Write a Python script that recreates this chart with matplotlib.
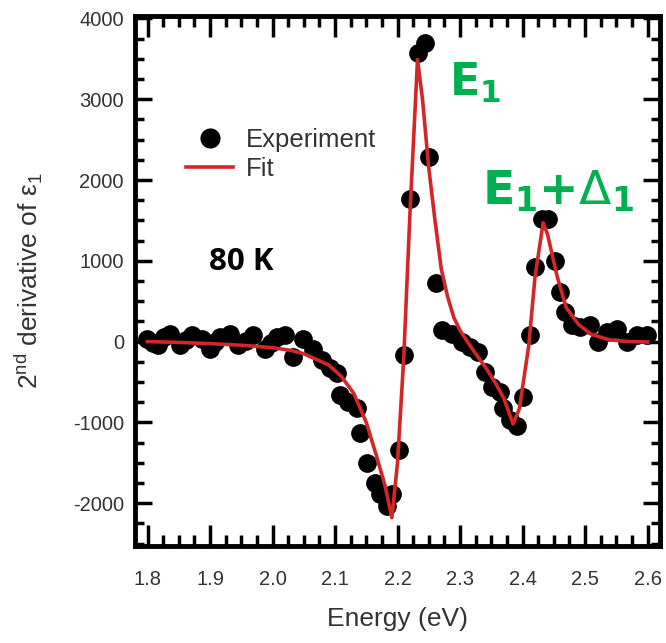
import numpy as np
import matplotlib
matplotlib.use('Agg')
import matplotlib.pyplot as plt
from matplotlib.ticker import MultipleLocator
from matplotlib.lines import Line2D

plt.rcParams['font.family'] = ['Liberation Sans', 'DejaVu Sans']
plt.rcParams['mathtext.fontset'] = 'dejavusans'
plt.rcParams['axes.unicode_minus'] = False

# experiment points (energy in eV, 2nd derivative of eps1)
exp_e = [1.799, 1.808, 1.817, 1.826, 1.836, 1.852, 1.862, 1.871, 1.887, 1.900,
         1.908, 1.916, 1.932, 1.945, 1.958, 1.969, 1.988, 1.997, 2.007, 2.020,
         2.033, 2.049, 2.065, 2.079, 2.092, 2.103, 2.108, 2.121, 2.135, 2.140,
         2.151, 2.164, 2.172, 2.183, 2.191, 2.203, 2.211, 2.220, 2.232, 2.244,
         2.251, 2.261, 2.271, 2.287, 2.303, 2.316, 2.329, 2.340, 2.351, 2.364,
         2.369, 2.380, 2.391, 2.401, 2.412, 2.420, 2.431, 2.441, 2.452, 2.460,
         2.468, 2.479, 2.492, 2.508, 2.521, 2.535, 2.551, 2.567, 2.583, 2.599]
exp_d = [37, -20, -45, 60, 98, -45, 20, 77, 37, -86,
         -10, 61, 98, -45, 10, 77, -86, -20, 57, 77,
         -188, 37, -86, -230, -332, -394, -660, -742, -824, -1132,
         -1500, -1747, -1890, -2033, -1890, -1340, -170, 1760, 3570, 3690,
         2290, 725, 140, 98, -4, -65, -127, -373, -557, -619,
         -824, -968, -1049, -680, 77, 919, 1513, 1513, 1000, 611,
         365, 200, 181, 200, -4, 119, 160, -4, 77, 77]

# fit curve
fit_e = [1.80, 1.85, 1.90, 1.95, 2.00, 2.03, 2.05, 2.07, 2.09, 2.11,
         2.13, 2.15, 2.165, 2.18, 2.191, 2.20, 2.21, 2.22, 2.232, 2.24,
         2.25, 2.26, 2.27, 2.28, 2.29, 2.30, 2.31, 2.325, 2.34, 2.355,
         2.37, 2.385, 2.395, 2.41, 2.42, 2.433, 2.44, 2.455, 2.47, 2.49,
         2.51, 2.54, 2.57, 2.60]
fit_d = [0, -10, -25, -45, -75, -110, -150, -220, -290, -430,
         -640, -1000, -1380, -1780, -2180, -1500, -200, 1600, 3490, 3000,
         2150, 1500, 900, 560, 300, 140, 20, -150, -310, -490,
         -700, -1020, -830, -50, 800, 1470, 1330, 820, 420, 210,
         90, 20, 0, -5]

red = '#d42626'
green = '#00b050'
grey = '#333333'

fig = plt.figure(figsize=(6.66, 6.43), dpi=100)
ax = fig.add_axes([135/666, 1-546/643, 525/666, 530/643])

ax.plot(exp_e, exp_d, 'o', color='black', ms=13.5, mew=0, zorder=2)
ax.plot(fit_e, fit_d, '-', color=red, lw=2.6, zorder=3)

ax.set_xlim(1.78, 2.62)
ax.set_ylim(-2530, 4030)
ax.xaxis.set_major_locator(MultipleLocator(0.1))
ax.xaxis.set_minor_locator(MultipleLocator(0.025))
ax.yaxis.set_major_locator(MultipleLocator(1000))
ax.yaxis.set_minor_locator(MultipleLocator(250))

for s in ax.spines.values():
    s.set_linewidth(3.5)
ax.tick_params(axis='both', which='both', direction='in', top=True, right=True,
               width=2.5, colors='black', labelcolor=grey, labelsize=14.5)
ax.tick_params(axis='x', which='major', length=15, pad=17)
ax.tick_params(axis='x', which='minor', length=8)
ax.tick_params(axis='y', which='major', length=12, pad=8)
ax.tick_params(axis='y', which='minor', length=6.5)

ax.set_xlabel('Energy (eV)', fontsize=19, color=grey, labelpad=13)
ax.set_ylabel(r'2$^{\mathregular{nd}}$ derivative of ε$_{\mathregular{1}}$',
              fontsize=19, color=grey, labelpad=20)

handles = [Line2D([], [], marker='o', color='black', ls='none', ms=14.5, mew=0),
           Line2D([], [], color=red, lw=2.6)]
leg = ax.legend(handles, ['Experiment', 'Fit'], loc='center left',
                bbox_to_anchor=(0.098, 0.7387), frameon=False, fontsize=18.5,
                borderpad=0, borderaxespad=0, handlelength=1.83,
                handletextpad=0.5, labelspacing=0.2)
for t in leg.get_texts():
    t.set_color(grey)

ax.text(1.95, 990, '80 K', fontsize=22.5, fontweight='bold', family='Open Sans',
        ha='center', va='center')
ax.text(2.282, 3038, r'$\mathregular{E}_{\mathregular{1}}$', fontsize=32,
        color=green, family='DejaVu Sans', fontweight='bold', ha='left', va='baseline')
ax.text(2.335, 1697, r'$\mathregular{E}_{\mathregular{1}}\mathregular{+}\Delta_{\mathregular{1}}$',
        fontsize=34, color=green, family='DejaVu Sans', fontweight='bold',
        ha='left', va='baseline')

plt.savefig('out.png', dpi=100)
